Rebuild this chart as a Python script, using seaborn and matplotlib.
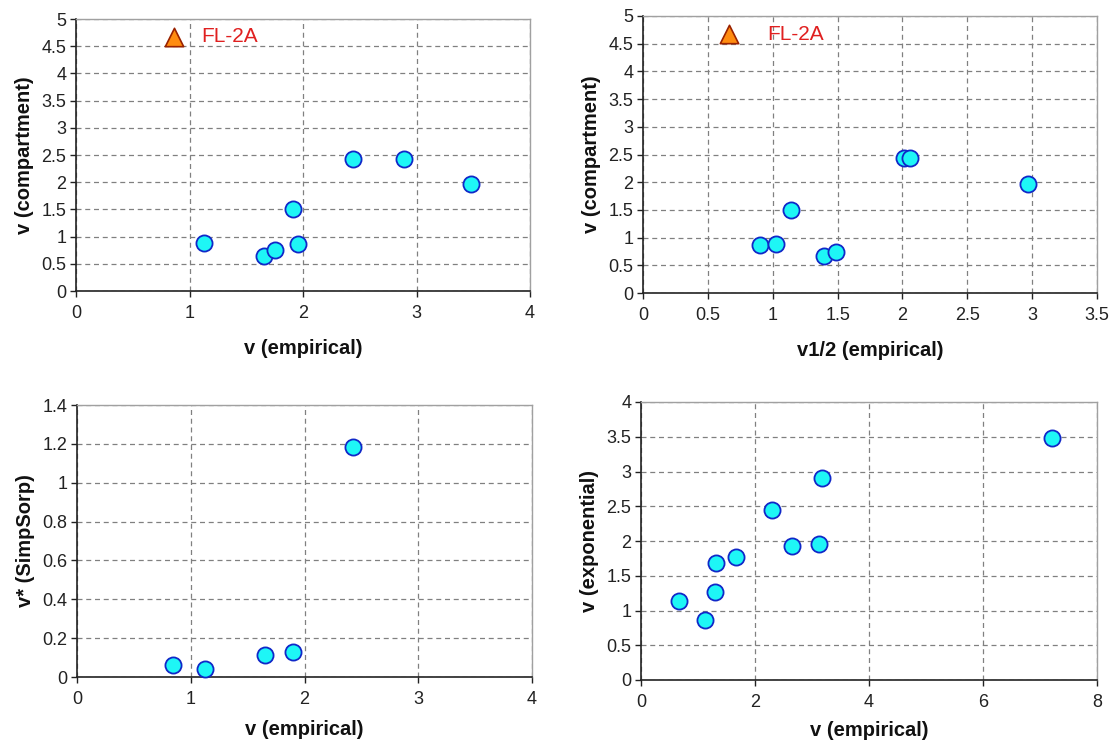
import matplotlib
matplotlib.use("Agg")
import matplotlib.pyplot as plt
import seaborn as sns
import pandas as pd
import numpy as np
from matplotlib.ticker import FuncFormatter

# ---------------- data ----------------
# Panel A: v (empirical) vs v (compartment)
a_x = [1.13, 1.66, 1.75, 1.91, 1.96, 2.44, 2.89, 3.48]
a_y = [0.89, 0.65, 0.75, 1.51, 0.86, 2.43, 2.43, 1.97]
a_out_x = [0.86]
a_out_y = [4.67]

# Panel B: v1/2 (empirical) vs v (compartment)
b_x = [0.905, 1.023, 1.14, 1.396, 1.488, 2.015, 2.055, 2.965]
b_y = [0.86, 0.885, 1.505, 0.66, 0.745, 2.445, 2.445, 1.97]
b_out_x = [0.664]
b_out_y = [4.67]

# Panel C: v (empirical) vs v* (SimpSorp)
c_x = [0.843, 1.129, 1.654, 1.896, 2.425]
c_y = [0.060, 0.041, 0.113, 0.131, 1.186]

# Panel D: v (empirical) vs v (exponential)
d_x = [0.662, 1.122, 1.30, 1.324, 1.674, 2.30, 2.649, 3.127, 3.176, 7.204]
d_y = [1.136, 0.866, 1.261, 1.68, 1.767, 2.45, 1.93, 1.964, 2.907, 3.485]

outlier_label = "FL-2A"

# ---------------- style ----------------
sns.set_style("white")
plt.rcParams["font.family"] = ["Liberation Sans", "DejaVu Sans"]

FILL = "#1EF6F6"
EDGE = "#1028C8"
TRI_FILL = "#FF8C10"
TRI_EDGE = "#992200"
LABEL_RED = "#E02020"

fig = plt.figure(figsize=(11.09, 7.46), dpi=100)
W, H = 1109, 746


def add_ax(left, top, right, bottom):
    return fig.add_axes([left / W, (H - bottom) / H, (right - left) / W, (bottom - top) / H])


axA = add_ax(76, 19, 530, 291)
axB = add_ax(643, 16, 1097, 293)
axC = add_ax(77, 405, 532, 677)
axD = add_ax(641, 402, 1097, 680)


def fmt(v, pos):
    return "%g" % round(v, 6)


def style(ax, xlim, ylim, xstep, ystep, xlabel, ylabel, xlabelpad):
    ax.set_xlim(*xlim)
    ax.set_ylim(*ylim)
    ax.set_xticks(np.arange(xlim[0], xlim[1] + 1e-9, xstep))
    ax.set_yticks(np.arange(ylim[0], ylim[1] + 1e-9, ystep))
    ax.xaxis.set_major_formatter(FuncFormatter(fmt))
    ax.yaxis.set_major_formatter(FuncFormatter(fmt))
    ax.grid(True, linestyle=(0, (4, 3)), color="#808080", linewidth=0.9)
    ax.set_axisbelow(True)
    for s in ("top", "right"):
        ax.spines[s].set_color("#a0a0a0")
        ax.spines[s].set_linewidth(1.0)
    for s in ("left", "bottom"):
        ax.spines[s].set_color("#222222")
        ax.spines[s].set_linewidth(1.2)
    ax.tick_params(axis="both", which="major", direction="out", length=4,
                   width=1.0, color="#222222", labelsize=13, labelcolor="#222222",
                   left=True, bottom=True)
    ax.tick_params(axis="x", pad=6)
    ax.tick_params(axis="y", pad=3)
    ax.set_xlabel(xlabel, fontsize=14.5, fontweight="bold", labelpad=xlabelpad, color="#111111")
    ax.set_ylabel(ylabel, fontsize=14.5, fontweight="bold", labelpad=5, color="#111111")


def scatter(ax, xs, ys):
    df = pd.DataFrame({"x": xs, "y": ys})
    sns.scatterplot(data=df, x="x", y="y", ax=ax, s=135, color=FILL,
                    edgecolor=EDGE, linewidth=1.3, zorder=3, clip_on=False)


def tri(ax, xs, ys):
    df = pd.DataFrame({"x": xs, "y": ys})
    sns.scatterplot(data=df, x="x", y="y", ax=ax, s=175, marker="^", color=TRI_FILL,
                    edgecolor=TRI_EDGE, linewidth=1.2, zorder=3)


# Panel A
scatter(axA, a_x, a_y)
tri(axA, a_out_x, a_out_y)
axA.text(1.10, a_out_y[0], outlier_label, color=LABEL_RED, fontsize=15, va="center", ha="left")
style(axA, (0, 4), (0, 5), 1, 0.5, "v (empirical)", "v (compartment)", 12)

# Panel B
scatter(axB, b_x, b_y)
tri(axB, b_out_x, b_out_y)
axB.text(0.955, b_out_y[0], outlier_label, color=LABEL_RED, fontsize=15, va="center", ha="left")
style(axB, (0, 3.5), (0, 5), 0.5, 0.5, "v1/2 (empirical)", "v (compartment)", 12)

# Panel C
scatter(axC, c_x, c_y)
style(axC, (0, 4), (0, 1.4), 1, 0.2, "v (empirical)", "v* (SimpSorp)", 9)

# Panel D
scatter(axD, d_x, d_y)
style(axD, (0, 8), (0, 4), 2, 0.5, "v (empirical)", "v (exponential)", 7)

fig.savefig("out.png", dpi=100, facecolor="white")
